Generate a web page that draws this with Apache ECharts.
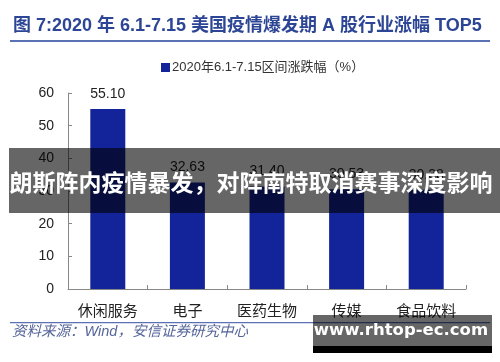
<!DOCTYPE html>
<html>
<head>
<meta charset="utf-8">
<script src="https://cdn.jsdelivr.net/npm/echarts@6/dist/echarts.min.js"></script>
<style>
html,body{margin:0;padding:0;background:#fff;}
#c{width:500px;height:362px;}
</style>
</head>
<body>
<div id="c"></div>
<script>
const categories = ['休闲服务', '电子', '医药生物', '传媒', '食品饮料'];
const values = [55.10, 32.63, 31.40, 30.53, 30.38];
const seriesName = '2020年6.1-7.15区间涨跌幅（%）';
const yTicks = [0, 10, 20, 30, 40, 50, 60];
const titleText = '图 7:2020 年 6.1-7.15 美国疫情爆发期 A 股行业涨幅 TOP5';
const bannerText = '朗斯阵内疫情暴发，对阵南特取消赛事深度影响';
const sourceText = '资料来源：Wind，安信证券研究中心';
const watermarkText = 'www.rhtop-ec.com';

const FONT = '"Liberation Sans", "Noto Sans CJK SC", sans-serif';
const chart = echarts.init(document.getElementById('c'), null, {renderer: 'canvas'});
chart.setOption({
  animation: false,
  backgroundColor: '#ffffff',
  textStyle: {fontFamily: FONT},
  legend: {
    data: [seriesName],
    left: 156, top: 56,
    icon: 'rect', itemWidth: 9, itemHeight: 9, itemGap: 2,
    textStyle: {fontSize: 13, color: '#333', fontFamily: FONT, padding: [0,0,0,-3]}
  },
  grid: {left: 68, right: 34, top: 93, bottom: 73},
  xAxis: {
    type: 'category',
    data: categories,
    axisLine: {lineStyle: {color: '#888', width: 1}},
    axisTick: {show: true, inside: true, length: 4, lineStyle: {color: '#888'}},
    axisLabel: {fontSize: 15, color: '#222', margin: 15, fontFamily: FONT}
  },
  yAxis: {
    type: 'value',
    min: yTicks[0], max: yTicks[yTicks.length - 1], interval: 10,
    splitLine: {show: false},
    axisLine: {show: true, lineStyle: {color: '#888', width: 1}},
    axisTick: {show: true, inside: true, length: 4, lineStyle: {color: '#888'}},
    axisLabel: {fontSize: 14, color: '#222', margin: 14, fontFamily: FONT}
  },
  series: [{
    name: seriesName,
    type: 'bar',
    data: values,
    barWidth: 35,
    itemStyle: {color: '#13249a'},
    label: {
      show: true, position: 'top', distance: 8,
      fontSize: 14, color: '#222', fontFamily: FONT,
      formatter: p => p.value.toFixed(2)
    }
  }],
  graphic: {elements: [
    {type: 'text', left: 13, top: 17, z: 100,
      style: {text: titleText, font: 'bold 18px ' + FONT, fill: '#2c4595'}},
    {type: 'rect', shape: {x: 10, y: 40, width: 480, height: 2}, z: 100,
      style: {fill: '#5a72b4'}},
    {type: 'rect', shape: {x: 10, y: 322, width: 480, height: 1.2}, z: 100,
      style: {fill: '#5a72b4'}},
    {type: 'text', left: 12, top: 325, z: 100,
      style: {text: sourceText, font: 'italic 14.5px ' + FONT, fill: '#55659a'}},
    {type: 'rect', shape: {x: 9, y: 148, width: 491, height: 65}, z: 100,
      style: {fill: 'rgba(0,0,0,0.6)'}},
    {type: 'text', x: 251, y: 182, z: 101,
      style: {text: bannerText, font: 'bold 23px "Noto Sans CJK SC", sans-serif', fill: '#ffffff',
        align: 'center', verticalAlign: 'middle'}},
    {type: 'rect', shape: {x: 313, y: 315, width: 179, height: 32}, z: 100,
      style: {fill: 'rgba(0,0,0,0.6)'}},
    {type: 'rect', shape: {x: 313, y: 346, width: 179, height: 7}, z: 100,
      style: {fill: '#000'}},
    {type: 'text', x: 401, y: 331, z: 101,
      style: {text: watermarkText, font: 'bold 16.5px "DejaVu Sans", sans-serif', fill: '#ffffff',
        align: 'center', verticalAlign: 'middle'}}
  ]}
});
</script>
</body>
</html>
